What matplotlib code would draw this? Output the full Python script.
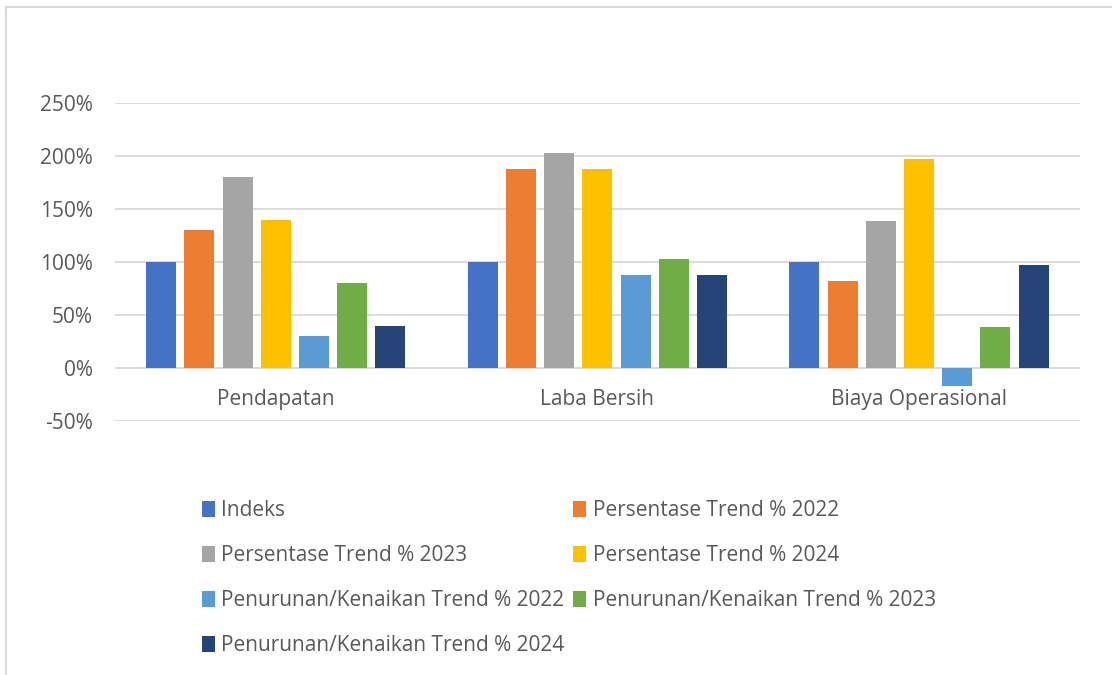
import matplotlib.pyplot as plt
import numpy as np
from matplotlib.lines import Line2D

plt.rcParams['font.family'] = ['Open Sans', 'DejaVu Sans']

kategori = ['Pendapatan', 'Laba Bersih', 'Biaya Operasional']
seri = ['Indeks', 'Persentase Trend % 2022', 'Persentase Trend % 2023',
        'Persentase Trend % 2024', 'Penurunan/Kenaikan Trend % 2022',
        'Penurunan/Kenaikan Trend % 2023', 'Penurunan/Kenaikan Trend % 2024']
indeks = [100, 100, 100]
trend_2022 = [130, 188, 82]
trend_2023 = [180, 203, 139]
trend_2024 = [140, 188, 197]
naik_2022 = [30, 88, -17]
naik_2023 = [80, 103, 39]
naik_2024 = [40, 88, 97]
warna = ['#4472C4', '#ED7D31', '#A5A5A5', '#FFC000', '#5B9BD5', '#70AD47', '#264478']

nilai = [indeks, trend_2022, trend_2023, trend_2024, naik_2022, naik_2023, naik_2024]

fig = plt.figure(figsize=(11.12, 6.75), dpi=100)
ax = fig.add_axes([0.1034, 0.376, 0.8676, 0.471])

x = np.arange(len(kategori))
pitch = 0.1188
lebar = 0.0933
bars = []
for i, (v, c) in enumerate(zip(nilai, warna)):
    b = ax.bar(x + (i - 3) * pitch, v, width=lebar, color=c, zorder=3)
    bars.append(b)

ax.set_xlim(-0.5, 2.5)
ax.set_ylim(-50, 250)
ax.set_yticks(range(-50, 251, 50))
ax.set_yticklabels([f'{t}%' for t in range(-50, 251, 50)])
ax.yaxis.grid(True, color='#D9D9D9', linewidth=1.3, zorder=0)
for s in ax.spines.values():
    s.set_visible(False)
ax.spines['bottom'].set_position(('data', 0))
ax.set_xticks(x)
ax.set_xticklabels(kategori)
ax.tick_params(axis='both', length=0, labelsize=15, labelcolor='#595959')
ax.tick_params(axis='x', pad=15)
ax.tick_params(axis='y', pad=16)

# urutan kolom agar legenda terbaca per baris
urut = [0, 2, 4, 6, 1, 3, 5]
handles = [bars[i] for i in urut]
labels = [seri[i] for i in urut]
fig.legend(handles, labels, ncol=2, loc='upper left', bbox_to_anchor=(0.172, 0.274),
           frameon=False, fontsize=15, labelcolor='#595959',
           handlelength=0.62, handleheight=0.8, handletextpad=0.3,
           columnspacing=0.45, labelspacing=1.15, borderpad=0)

# bingkai tipis
fig.add_artist(Line2D([0.0054, 0.0054], [0, 0.99], color='#D9D9D9', linewidth=1.5))
fig.add_artist(Line2D([0.0054, 1], [0.99, 0.99], color='#D9D9D9', linewidth=1.5))

fig.savefig('out.png', dpi=100)
